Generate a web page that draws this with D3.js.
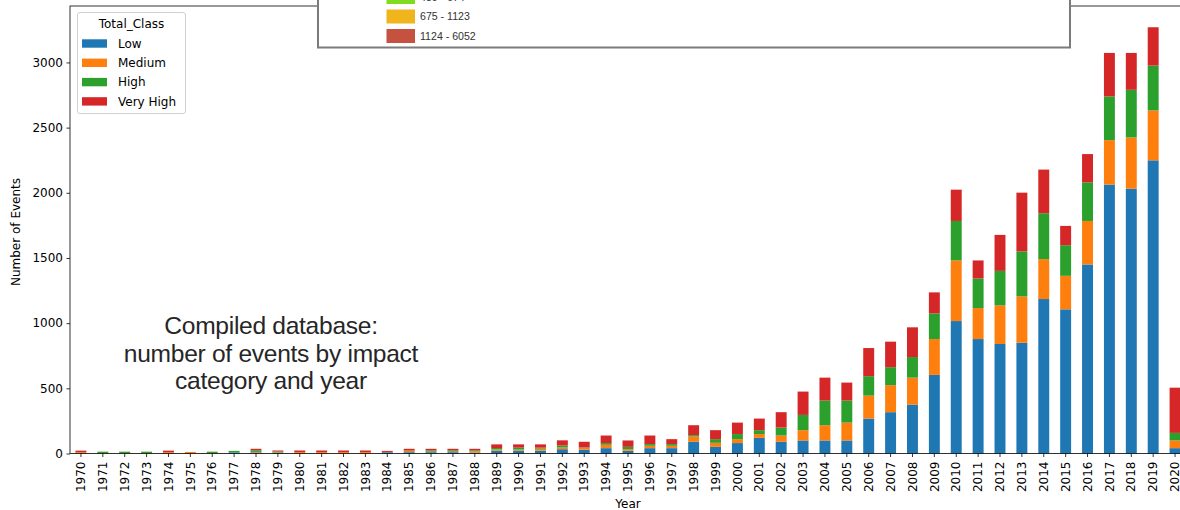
<!DOCTYPE html>
<html>
<head>
<meta charset="utf-8">
<script src="https://cdn.jsdelivr.net/npm/d3@7"></script>
<style>
  html, body { margin: 0; padding: 0; background: #fff; }
  svg { display: block; font-family: "DejaVu Sans", sans-serif; }
</style>
</head>
<body>
<svg id="chart" width="1180" height="510"></svg>
<script>
// Events per year, split by impact class
const years = d3.range(1970, 2021).map(String);
const classes = ["Low", "Medium", "High", "Very High"];
const classColors = ["#1f77b4", "#ff7f0e", "#2ca02c", "#d62728"];

const lowVals = [0,0,0,0,0,0,0,8,8,4,0,0,0,0,10,10,10,10,6,22,22,22,33,30,41,21,41,41,90,51,
  80,120,90,100,100,100,268,317,375,603,1016,878,840,850,1185,1106,1450,2063,2032,2249,41];
const mediumVals = [10,4,4,4,10,12,4,0,4,4,11,11,11,11,2,10,4,4,10,10,8,15,13,14,26,13,18,18,40,31,
  30,29,48,79,117,137,176,207,207,275,465,238,296,355,306,257,334,341,393,383,59];
const highVals = [0,10,10,10,0,0,10,12,12,7,0,0,0,0,0,4,10,10,8,10,15,8,15,2,13,17,13,13,11,28,
  39,30,61,117,189,169,149,138,158,197,303,227,265,345,352,235,296,335,365,344,58];
const veryHighVals = [12,0,0,0,12,0,0,0,12,8,12,12,12,12,8,12,12,12,12,28,25,25,40,44,58,49,66,38,76,69,
  88,89,118,179,176,138,216,196,228,161,240,138,276,451,335,148,217,334,283,294,347];

const yTicks = [0, 500, 1000, 1500, 2000, 2500, 3000];

// Colour ranges of the inset map legend drawn over the top edge
const rangeLabels = ["489 - 674", "675 - 1123", "1124 - 6052"];
const rangeColors = ["#7fdc1e", "#f0b41c", "#c5523f"];

const noteLines = ["Compiled database:", "number of events by impact", "category and year"];

const rows = years.map((y, i) => ({
  year: y,
  "Low": lowVals[i],
  "Medium": mediumVals[i],
  "High": highVals[i],
  "Very High": veryHighVals[i]
}));

const svg = d3.select("#chart");
const plot = { left: 70, right: 1186, top: 6, bottom: 453.5 };
const tickFont = "DejaVu Sans, sans-serif";
const noteFont = "'Liberation Sans', Arial, sans-serif";

const x = d3.scaleBand()
  .domain(years)
  .range([plot.left, plot.right])
  .paddingInner(0.5)
  .paddingOuter(0.25);

const y = d3.scaleLinear()
  .domain([0, 3433])
  .range([plot.bottom, plot.top]);

const color = d3.scaleOrdinal().domain(classes).range(classColors);

const stacked = d3.stack().keys(classes)(rows);

// Stacked bars
svg.append("g")
  .selectAll("g")
  .data(stacked)
  .join("g")
  .attr("fill", d => color(d.key))
  .selectAll("rect")
  .data(d => d)
  .join("rect")
  .attr("x", d => x(d.data.year))
  .attr("width", x.bandwidth())
  .attr("y", d => y(d[1]))
  .attr("height", d => y(d[0]) - y(d[1]));

// Frame
svg.append("rect")
  .attr("x", plot.left)
  .attr("y", plot.top)
  .attr("width", plot.right - plot.left)
  .attr("height", plot.bottom - plot.top)
  .attr("fill", "none")
  .attr("stroke", "#000")
  .attr("stroke-width", 0.8);

// Y axis
const yAxis = svg.append("g")
  .attr("transform", `translate(${plot.left},0)`)
  .call(d3.axisLeft(y).tickValues(yTicks).tickFormat(d3.format("d"))
    .tickSize(3.5).tickPadding(3.5).tickSizeOuter(0));
yAxis.select(".domain").remove();
yAxis.selectAll("line").attr("stroke", "#000").attr("stroke-width", 0.8);
yAxis.selectAll("text")
  .style("font-family", tickFont)
  .style("font-size", "12px")
  .attr("fill", "#000");

// X axis with vertical year labels
const xAxis = svg.append("g")
  .attr("transform", `translate(0,${plot.bottom})`)
  .call(d3.axisBottom(x).tickSize(3.5).tickSizeOuter(0));
xAxis.select(".domain").remove();
xAxis.selectAll("line").attr("stroke", "#000").attr("stroke-width", 0.8);
xAxis.selectAll("text")
  .style("font-family", tickFont)
  .style("font-size", "12px")
  .attr("fill", "#000")
  .attr("transform", "rotate(-90)")
  .attr("x", -8)
  .attr("y", 0)
  .attr("dy", "0.35em")
  .style("text-anchor", "end");

// Axis titles
svg.append("text")
  .attr("transform", "translate(16,232) rotate(-90)")
  .attr("text-anchor", "middle")
  .attr("dominant-baseline", "central")
  .style("font-size", "12px")
  .text("Number of Events");

svg.append("text")
  .attr("x", (plot.left + plot.right) / 2)
  .attr("y", 508)
  .attr("text-anchor", "middle")
  .style("font-size", "12px")
  .text("Year");

// Class legend
const lg = svg.append("g");
lg.append("rect")
  .attr("x", 77.5).attr("y", 12.5)
  .attr("width", 108).attr("height", 101)
  .attr("rx", 2.5)
  .attr("fill", "#fff").attr("fill-opacity", 0.8)
  .attr("stroke", "#d0d0d0").attr("stroke-width", 1);
lg.append("text")
  .attr("x", 131.5).attr("y", 28)
  .attr("text-anchor", "middle")
  .style("font-size", "12px")
  .text("Total_Class");
const items = lg.selectAll("g.item")
  .data(classes)
  .join("g")
  .attr("class", "item")
  .attr("transform", (d, i) => `translate(0,${43.5 + i * 19.3})`);
items.append("rect")
  .attr("x", 82).attr("y", -4.2)
  .attr("width", 25).attr("height", 8.4)
  .attr("fill", d => color(d));
items.append("text")
  .attr("x", 118).attr("y", 0)
  .attr("dy", "0.35em")
  .style("font-size", "12px")
  .text(d => d);

// Descriptive note
svg.append("text")
  .attr("x", 271)
  .attr("y", 334)
  .attr("text-anchor", "middle")
  .style("font-family", noteFont)
  .style("font-size", "24.6px")
  .style("letter-spacing", "-0.3px")
  .attr("fill", "#262626")
  .selectAll("tspan")
  .data(noteLines)
  .join("tspan")
  .attr("x", 271)
  .attr("dy", (d, i) => i === 0 ? 0 : 27.5)
  .text(d => d);

// Inset range legend box over the top edge
const inset = svg.append("g");
inset.append("rect")
  .attr("x", 318).attr("y", -20)
  .attr("width", 752).attr("height", 67.5)
  .attr("fill", "#fff")
  .attr("stroke", "#7b7b7b")
  .attr("stroke-width", 2);
const rItems = inset.selectAll("g.range")
  .data(rangeLabels)
  .join("g")
  .attr("class", "range")
  .attr("transform", (d, i) => `translate(0,${-3 + i * 19.5})`);
rItems.append("rect")
  .attr("x", 386.5).attr("y", -7)
  .attr("width", 28.5).attr("height", 14)
  .attr("fill", (d, i) => rangeColors[i]);
rItems.append("text")
  .attr("x", 420).attr("y", 0)
  .attr("dy", "0.35em")
  .style("font-family", noteFont)
  .style("font-size", "10.6px")
  .attr("fill", "#333")
  .text(d => d);
</script>
</body>
</html>
